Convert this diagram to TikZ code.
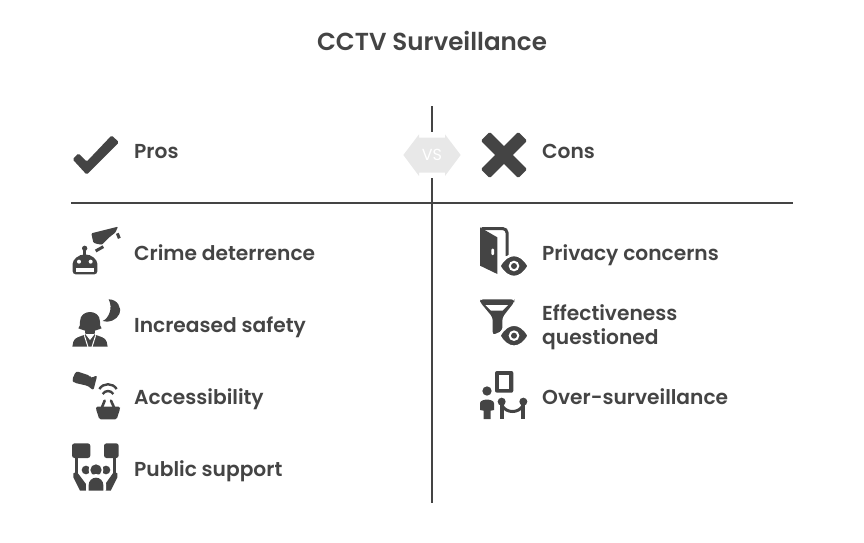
\documentclass[tikz,border=0pt]{standalone}
\usepackage{fontspec}
\setmainfont{Poppins}[BoldFont={Poppins SemiBold}]
\definecolor{ink}{HTML}{444444}
\definecolor{vsfill}{HTML}{E8E8E8}
\tikzset{
  lbl/.style={anchor=base west,inner sep=0pt,text=ink,font=\fontsize{20.2}{24}\selectfont\bfseries},
  rulel/.style={draw=ink,line width=1.7pt},
  ico/.style={fill=ink,draw=none},
  hole/.style={fill=white,draw=none},
  strk/.style={draw=ink,fill=none,line width=#1},
  zm/.style={scale=1/3}
}
\newcommand{\eyeshape}[2]{% centre x,y zoom coordinates
  \fill[ico,draw=white,line width=2.5pt] (#1-44,#2) .. controls (#1-20,#2-44) and (#1+20,#2-44) .. (#1+44,#2) .. controls (#1+20,#2+44) and (#1-20,#2+44) .. (#1-44,#2) -- cycle;
  \fill[hole] (#1,#2) circle (16);
  \fill[ico] (#1,#2) circle (9);
}
\begin{document}
\begin{tikzpicture}[x=1pt,y=-1pt]
\useasboundingbox (0,0) rectangle (864,543);
% title
\node[text=ink,inner sep=0pt,anchor=base,font=\fontsize{24.6}{28}\selectfont\bfseries] (title) at (432,51) {CCTV Surveillance};
% rules
\coordinate (vt) at (432,106);\coordinate (vu) at (432,132);
\coordinate (vl) at (432,178);\coordinate (vb) at (432,503);
\coordinate (hl) at (71,203);\coordinate (hr) at (793,203);
\draw[rulel] (vt)--(vu);
\draw[rulel] (vl)--(vb);
\draw[rulel] (hl)--(hr);
% VS
\begin{scope}[shift={(390,100)},zm]
\fill[vsfill] (40,165)--(87,103)--(87,113)--(165,113)--(165,103)--(212,165)--(165,228)--(165,218)--(87,218)--(87,228)--cycle;
\end{scope}
\node[inner sep=0pt,text=white,font=\fontsize{16}{20}\selectfont] (vs) at (432,155) {VS};
% check
\begin{scope}[shift={(60,125)},zm]
\fill[ico,rounded corners=1.5pt] (38,103)--(55,85)--(80,110)--(155,31)--(177,52)--(80,149)--cycle;
\end{scope}
% X
\begin{scope}[shift={(504,155)},rotate=45]
\fill[ico,rounded corners=1.5pt] (-26.5,-6.2) rectangle (26.5,6.2);
\fill[ico,rounded corners=1.5pt] (-6.2,-26.5) rectangle (6.2,26.5);
\end{scope}
% labels
\node[lbl] (pros) at (134,158) {Pros};
\node[lbl] (cons) at (542,158) {Cons};
\node[lbl] (l1) at (134,260) {Crime deterrence};
\node[lbl] (l2) at (134,332) {Increased safety};
\node[lbl] (l3) at (134,404) {Accessibility};
\node[lbl] (l4) at (134,476) {Public support};
\node[lbl] (r1) at (542,260) {Privacy concerns};
\node[lbl] (r2a) at (542,320) {Effectiveness};
\node[lbl] (r2b) at (542,344) {questioned};
\node[lbl] (r3) at (542,404) {Over-surveillance};
% icon 1, 2
\begin{scope}[shift={(60,220)},zm]
% camera
\fill[ico,rounded corners=1pt] (94,40)--(174,20)--(166,38)--(150,50)--(126,74)--(112,72)--(100,68)--cycle;
\draw[strk=3pt] (107,93)--(130,80);
\draw[strk=3pt] (172,40)--(178,55);
% robot
\fill[ico] (74,85) circle (8);
\fill[ico] (70,85) rectangle (78,108);
\fill[ico,rounded corners=3pt] (38,163)--(38,140) arc (180:360:37) --(112,163)--cycle;
\fill[hole] (57,125) circle (6);
\fill[hole] (92,125) circle (6);
\fill[hole] (49,143) rectangle (101,155);
% moon
\fill[ico] (146,238) .. controls (172,238) and (186,262) .. (178,282) .. controls (170,300) and (146,310) .. (128,303) .. controls (146,295) and (160,265) .. (146,238) -- cycle;
% woman
\fill[ico] (55,325) .. controls (60,322) and (60,312) .. (60,305) .. controls (60,285) and (75,276) .. (90,276) .. controls (105,276) and (120,285) .. (120,305) .. controls (120,312) and (120,322) .. (125,325) -- (105,332)--(75,332)--cycle;
\fill[ico] (75,330) rectangle (105,350);
\fill[ico] (37,380)--(40,365) .. controls (44,352) and (60,350) .. (72,345)--(108,345) .. controls (120,350) and (136,352) .. (140,365)--(143,380)--cycle;
\draw[white,line width=1pt] (73,346)--(84,381);
\draw[white,line width=1pt] (107,346)--(96,381);
\fill[white] (76,342)--(90,360)--(104,342)--(104,340)--(76,340)--cycle;
\fill[ico] (78,330) rectangle (102,342);
\end{scope}
% icon 3, 4
\begin{scope}[shift={(60,360)},zm]
\fill[ico,rounded corners=2.5pt] (48,33)--(90,47)--(92,55)--(112,45)--(100,92)--(85,78)--(42,68)--(36,60)--cycle;
\draw[strk=2.4pt] (118,87) .. controls (130,68) and (158,68) .. (170,87);
\draw[strk=2.4pt] (128,102) .. controls (136,90) and (152,90) .. (160,102);
\draw[ink,line width=2.6pt,line cap=round] (134,122)--(126,142);
\draw[ink,line width=2.6pt,line cap=round] (153,122)--(162,142);
\fill[ico,rounded corners=1.5pt] (108,140)--(180,140)--(180,147)--(170,178)--(118,178)--(108,147)--cycle;
% sign holders
\fill[ico,rounded corners=2.5pt] (36,250) rectangle (91,294);
\fill[ico,rounded corners=2.5pt] (132,250) rectangle (176,294);
\fill[ico] (44,292) rectangle (54,345);
\fill[ico] (158,292) rectangle (168,345);
\fill[ico] (40,340)--(50,335)--(78,372)--(78,392)--(60,392)--(40,352)--cycle;
\fill[ico] (172,340)--(162,335)--(136,372)--(136,392)--(152,392)--(172,352)--cycle;
\fill[ico] (78,330) circle (13);
\fill[ico] (138,330) circle (13);
\fill[hole] (108,330) circle (22);
\fill[ico] (108,330) circle (17);
\fill[hole] (78,392)--(78,372) arc (180:360:30) -- (138,392) -- cycle;
\fill[ico] (86,392) -- (86,375) arc (180:360:22) -- (130,392) -- cycle;
\end{scope}
% door, funnel
\begin{scope}[shift={(470,220)},zm]
\draw[ink,line width=3pt,rounded corners=4pt] (35,26)--(111,26)--(111,108);
\fill[ico] (30,22)--(82,52)--(82,162)--(30,137)--cycle;
\fill[hole,rounded corners=1pt] (64,86) rectangle (72,105);
\eyeshape{132}{138}
\fill[ico,rounded corners=3pt] (30,238)--(133,238)--(133,246)--(97,292)--(97,332)--(68,345)--(68,292)--(30,246)--cycle;
\fill[hole] (46,255)--(114,255)--(97,272)--(63,272)--cycle;
\eyeshape{132}{347}
\end{scope}
% over-surveillance
\begin{scope}[shift={(470,360)},zm]
\fill[ico,rounded corners=2pt] (75,33) rectangle (130,98);
\fill[hole] (87,45) rectangle (118,87);
\fill[ico] (51,93) circle (14);
\fill[ico] (30,150)--(30,130) .. controls (30,115) and (72,115) .. (72,130)--(72,150)--(62,152)--(62,177)--(41,177)--(41,152)--cycle;
\fill[ico] (95,125) circle (12);
\fill[ico] (160,125) circle (12);
\fill[ico] (90,125) rectangle (101,177);
\fill[ico] (154,125) rectangle (165,177);
\draw[strk=3pt] (97,138) .. controls (110,160) and (145,160) .. (158,138);
\end{scope}
\end{tikzpicture}
\end{document}
